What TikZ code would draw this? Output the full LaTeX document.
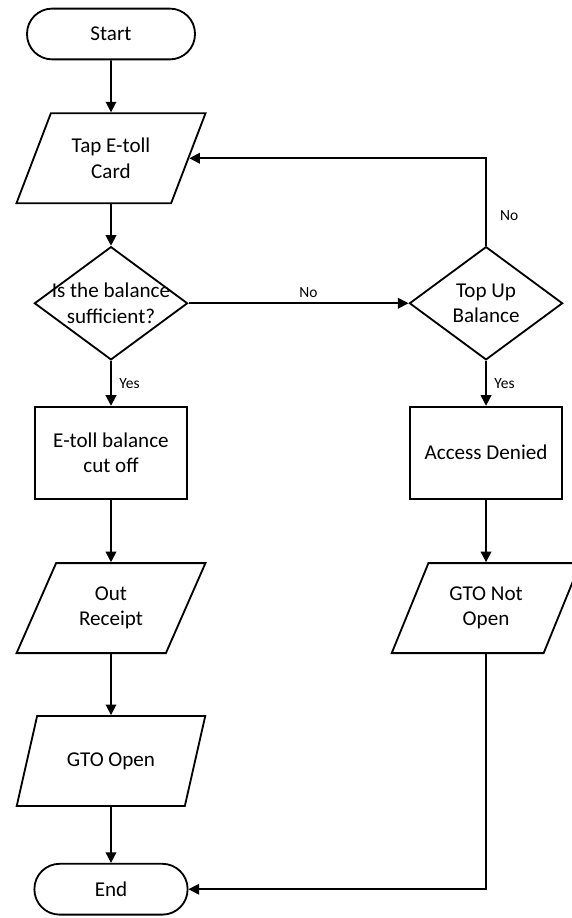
\documentclass[tikz,border=0pt]{standalone}
\usepackage{fontspec}
\setmainfont{Carlito}
\usepackage{tikz}
\usetikzlibrary{arrows.meta, positioning, shapes.geometric}
\tikzstyle{io} = [trapezium, trapezium left angle=63, trapezium right angle=117, trapezium stretches=true, minimum width=4.75cm, minimum height=2.25cm, text centered, align=center, draw=black]
\tikzstyle{arrow} = [line width=1.3pt, -{Triangle[length=7.5pt, width=7.5pt]}]

\begin{document}
\begin{tikzpicture}[
    font=\fontsize{15}{18}\selectfont,
    line width=1.3pt,
    terminal/.style={rectangle, draw, rounded corners=0.63cm, minimum height=1.27cm, align=center},
    block/.style={rectangle, draw, minimum width=3.8cm, minimum height=2.3cm, align=center},
    decision/.style={diamond, draw, minimum width=3.83cm, minimum height=2.83cm, inner sep=0pt},
    tag/.style={font=\fontsize{11}{13}\selectfont}
]
\useasboundingbox (0,0) rectangle (14.275,-22.95);

% Nodes
\node[terminal, minimum width=4.2cm] (start) at (2.775,-0.85) {Start};
\node[io, below=1.3cm of start] (tap) {Tap E-toll\\Card};
\node[decision, below=1.04cm of tap, label={[align=center]center:Is the balance\\sufficient?}] (check) {};
\node[block, below=1.125cm of check] (cut) {E-toll balance\\cut off};
\node[io, below=1.565cm of cut] (receipt) {Out\\Receipt};
\node[io, below=1.525cm of receipt] (open) {GTO Open};
\node[terminal, minimum width=3.83cm, below=1.4cm of open] (end) {End};

% Right branch
\node[decision, right=5.5cm of check, label={[align=center]center:Top Up\\Balance}] (topup) {};
\node[block, below=1.125cm of topup] (denied) {Access Denied};
\node[io, below=1.565cm of denied] (notopen) {GTO Not\\Open};

% Draw arrows
\draw[arrow] (start) -- (tap);
\draw[arrow] (tap) -- (check);
\draw[arrow] (check) -- node[tag, right=2pt] {Yes} (cut);
\draw[arrow] (check) -- node[tag, above, xshift=0.25cm] {No} (topup);
\draw[arrow] (topup.north) |- node[tag, pos=0.17, right=6pt] {No} (tap.east);
\draw[arrow] (topup) -- node[tag, right=2pt] {Yes} (denied);
\draw[arrow] (cut) -- (receipt);
\draw[arrow] (denied) -- (notopen);
\draw[arrow] (receipt) -- (open);
\draw[arrow] (open) -- (end);
\draw[arrow] (notopen.south) |- (end.east);

\end{tikzpicture}
\end{document}
